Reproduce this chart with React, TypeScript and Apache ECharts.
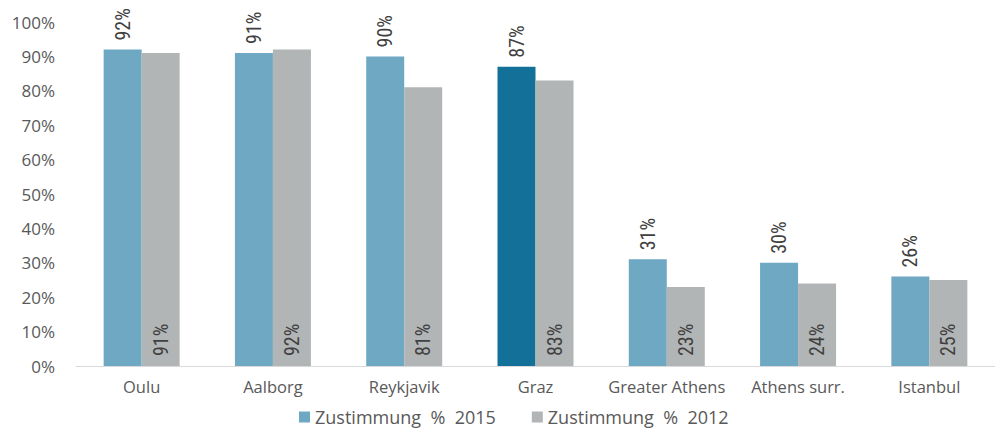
import React, { useEffect, useRef } from "react";
import * as echarts from "echarts";

const categories = ["Oulu", "Aalborg", "Reykjavik", "Graz", "Greater Athens", "Athens surr.", "Istanbul"];
const values2015 = [92, 91, 90, 87, 31, 30, 26];
const values2012 = [91, 92, 81, 83, 23, 24, 25];
const yTicks = [0, 10, 20, 30, 40, 50, 60, 70, 80, 90, 100];
const highlightIndex = 3;

const BLUE = "#6fa8c3";
const DARK_BLUE = "#137199";
const GRAY = "#b2b5b6";
const NARROW = "'Liberation Sans Narrow', 'Roboto Condensed', 'Open Sans', sans-serif";
const MAIN = "'Open Sans', sans-serif";

export default function App() {
  const ref = useRef<HTMLDivElement>(null);
  useEffect(() => {
    if (!ref.current) return;
    const chart = echarts.init(ref.current, null, { renderer: "svg" });
    chart.setOption({
      animation: false,
      backgroundColor: "#ffffff",
      grid: { left: 76, right: -8, top: 22, bottom: 64, containLabel: false },
      legend: {
        bottom: -1,
        left: 294,
        itemWidth: 11,
        itemHeight: 11,
        itemGap: 36,
        icon: "rect",
        textStyle: { fontFamily: MAIN, fontSize: 18, color: "#595959" },
        data: ["Zustimmung  %  2015", "Zustimmung  %  2012"],
      },
      xAxis: {
        type: "category",
        data: categories,
        axisLine: { lineStyle: { color: "#d9d9d9", width: 1 } },
        axisTick: { show: false },
        axisLabel: { interval: 0, fontFamily: MAIN, fontSize: 16.5, color: "#595959", margin: 12 },
      },
      yAxis: {
        type: "value",
        min: yTicks[0],
        max: yTicks[yTicks.length - 1],
        interval: 10,
        splitLine: { show: false },
        axisLine: { show: false },
        axisTick: { show: false },
        axisLabel: {
          formatter: "{value}%",
          fontFamily: MAIN,
          fontSize: 17,
          color: "#595959",
          margin: 21,
        },
      },
      series: [
        {
          name: "Zustimmung  %  2015",
          type: "bar",
          barWidth: 38,
          barGap: "0%",
          itemStyle: { color: BLUE },
          data: values2015.map((v, i) => ({
            value: v,
            itemStyle: { color: i === highlightIndex ? DARK_BLUE : BLUE },
          })),
          label: {
            show: true,
            position: "top",
            rotate: 90,
            align: "left",
            verticalAlign: "middle",
            distance: 9,
            formatter: "{c}%",
            fontFamily: NARROW,
            fontSize: 20,
            color: "#404040",
          },
        },
        {
          name: "Zustimmung  %  2012",
          type: "bar",
          barWidth: 38,
          barGap: "0%",
          itemStyle: { color: GRAY },
          data: values2012,
          label: {
            show: true,
            position: "insideBottom",
            rotate: 90,
            align: "left",
            verticalAlign: "middle",
            distance: 10,
            formatter: "{c}%",
            fontFamily: NARROW,
            fontSize: 20,
            color: "#404040",
          },
        },
      ],
    });
    return () => chart.dispose();
  }, []);
  return <div ref={ref} style={{ width: 995, height: 430, position: "absolute", left: 0, top: 0 }} />;
}
